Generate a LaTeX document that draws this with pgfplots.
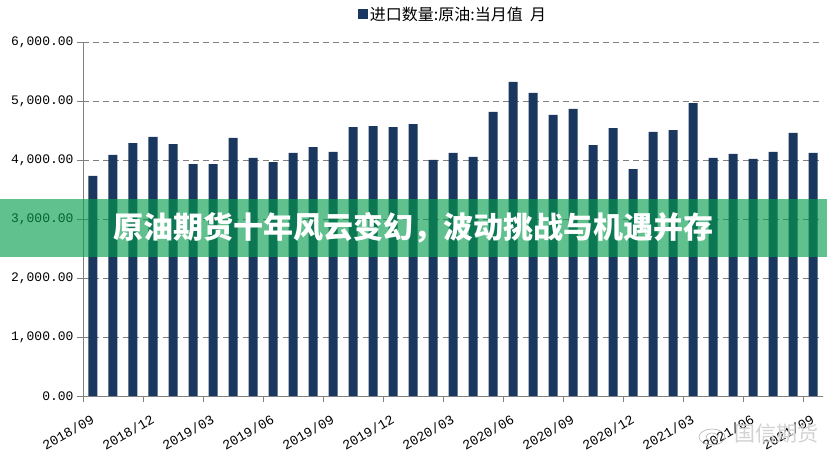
\documentclass[border=0pt]{standalone}
\usepackage{pgfplots}
\pgfplotsset{compat=1.18}
\usepackage{fontspec}
\setmainfont{Noto Sans CJK SC}
\setmonofont{Liberation Mono}
\usetikzlibrary{calc}
\definecolor{barnavy}{RGB}{26,55,96}
\definecolor{gridgray}{RGB}{128,128,128}
\definecolor{bandgreen}{RGB}{5,156,77}

% monthly crude oil imports, 2018/09 .. 2021/09
\pgfplotstableread{
x y
0.5 3730
1.5 4085
2.5 4288
3.5 4390
4.5 4271
5.5 3932
6.5 3932
7.5 4373
8.5 4034
9.5 3966
10.5 4119
11.5 4220
12.5 4136
13.5 4559
14.5 4576
15.5 4559
16.5 4610
17.5 4000
18.5 4119
19.5 4051
20.5 4814
21.5 5322
22.5 5136
23.5 4763
24.5 4865
25.5 4254
26.5 4542
27.5 3847
28.5 4475
29.5 4508
30.5 4966
31.5 4034
32.5 4102
33.5 4017
34.5 4136
35.5 4458
36.5 4119
}\imports

\begin{document}
\begin{tikzpicture}
\begin{axis}[
  scale only axis, width=740pt, height=354pt,
  xmin=0, xmax=37, ymin=0, ymax=6000,
  axis x line*=bottom, axis y line*=left,
  axis line style={gridgray},
  ytick={0,1000,...,6000},
  scaled y ticks=false,
  ymajorgrids,
  grid style={gridgray, dash pattern=on 6pt off 4pt, line width=0.8pt},
  xtick={0,3,...,36},
  xticklabels={2018/09,2018/12,2019/03,2019/06,2019/09,2019/12,2020/03,2020/06,2020/09,2020/12,2021/03,2021/06,2021/09},
  tick align=outside, major tick length=6pt,
  tick style={gridgray},
  yticklabel style={font=\ttfamily\fontsize{13}{13}\selectfont,
    /pgf/number format/fixed, /pgf/number format/fixed zerofill,
    /pgf/number format/precision=2, /pgf/number format/1000 sep={,},
    /pgf/number format/assume math mode=true},
  xticklabel style={font=\ttfamily\fontsize{13.5}{13.5}\selectfont, rotate=30, anchor=north east, xshift=4pt, yshift=-10pt},
  legend style={at={(0.5,1.079)}, anchor=center, draw=none, fill=none,
    font=\fontsize{16}{16}\selectfont},
  legend image code/.code={\fill[#1] (0pt,-5pt) rectangle (10pt,5pt);},
]
\addplot[ybar, bar width=9pt, fill=barnavy, draw=none] table[x=x, y=y] {\imports};
\addlegendentry{进口数量:原油:当月值\ \ 月}
\end{axis}
\pgfresetboundingbox
\path[use as bounding box] ($(current axis.south west)+(-83pt,-61pt)$) rectangle ($(current axis.north east)+(4pt,42pt)$);
\fill[bandgreen, opacity=0.635] ($(current axis.south west)+(-83pt,139pt)$) rectangle ($(current axis.south east)+(4pt,197pt)$);
\node[anchor=west, text=white, font=\fontsize{30}{30}\selectfont\bfseries, inner sep=0pt]
  at ($(current axis.south west)+(30pt,168pt)$) {原油期货十年风云变幻，波动挑战与机遇并存};
% watermark
\draw[gray!60, line width=0.6pt] ($(current axis.south west)+(629pt,-41pt)$) ellipse (13pt and 8pt);
\draw[gray!60, line width=0.6pt] ($(current axis.south west)+(629pt,-41pt)$) ellipse (6pt and 4pt);
\node[text=gray!35, font=\fontsize{21}{21}\selectfont, inner sep=0pt]
  at ($(current axis.south west)+(693pt,-38pt)$) {国信期货};
\end{tikzpicture}
\end{document}
